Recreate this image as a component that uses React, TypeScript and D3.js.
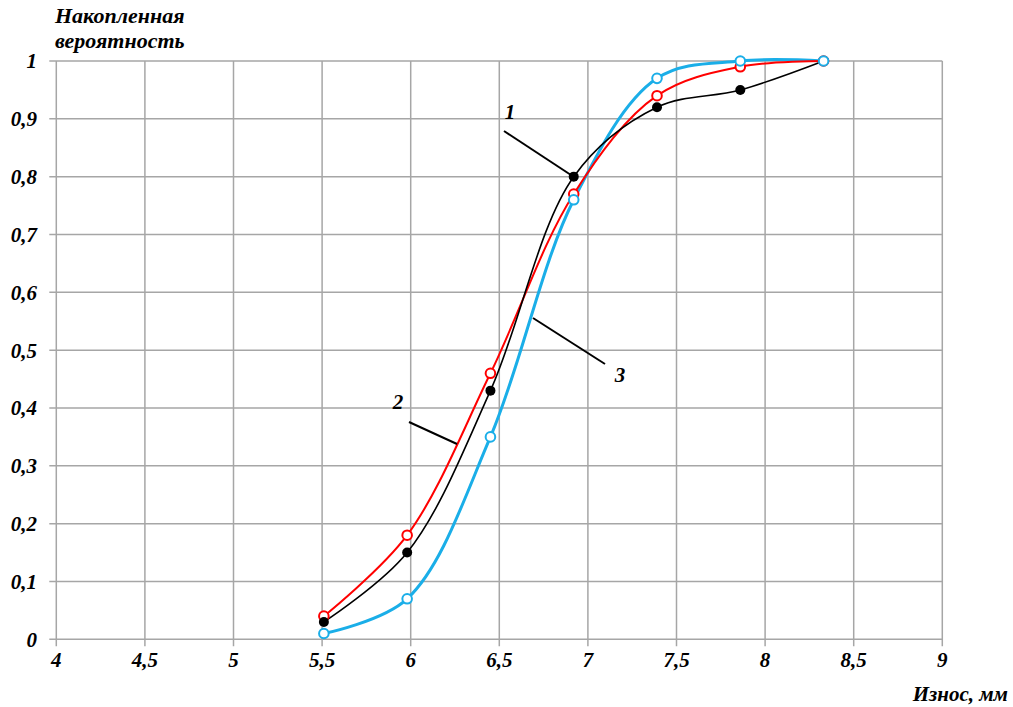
import React from "react";
import * as d3 from "d3";

const xValues = [5.51, 5.98, 6.45, 6.92, 7.39, 7.86, 8.33];
const series1 = [0.03, 0.15, 0.43, 0.8, 0.92, 0.95, 1.0];
const series2 = [0.04, 0.18, 0.46, 0.77, 0.94, 0.99, 1.0];
const series3 = [0.01, 0.07, 0.35, 0.76, 0.97, 1.0, 1.0];
const xTicks = [4, 4.5, 5, 5.5, 6, 6.5, 7, 7.5, 8, 8.5, 9];
const yTicks = [0, 0.1, 0.2, 0.3, 0.4, 0.5, 0.6, 0.7, 0.8, 0.9, 1];

const fmt = (v: number) => String(v).replace(".", ",");

export default function App() {
  const W = 1013, H = 707;
  const x = d3.scaleLinear().domain([4, 9]).range([56.3, 942.3]);
  const y = d3.scaleLinear().domain([0, 1]).range([639.3, 61]);
  const line = d3
    .line<[number, number]>()
    .x((d) => x(d[0]))
    .y((d) => y(d[1]))
    .curve(d3.curveCatmullRom.alpha(0.5));
  const pts = (s: number[]) => xValues.map((v, i) => [v, s[i]] as [number, number]);
  const font = "'Liberation Serif', 'Times New Roman', serif";
  const grid = "#a6a6a6";
  const ts = 21;
  return (
    <svg width={W} height={H} style={{ position: "absolute", left: 0, top: 0, background: "#fff" }}>
      <rect width={W} height={H} fill="#fff" />
      {xTicks.map((t) => (
        <line key={"gx" + t} x1={x(t)} x2={x(t)} y1={y(1)} y2={y(0) + 7} stroke={grid} strokeWidth={1.5} />
      ))}
      {yTicks.map((t) => (
        <line key={"gy" + t} x1={x(4) - 7} x2={x(9)} y1={y(t)} y2={y(t)} stroke={grid} strokeWidth={1.5} />
      ))}
      {yTicks.map((t) => (
        <text key={"ty" + t} x={37} y={y(t)} dy="0.35em" textAnchor="end" fontFamily={font} fontWeight="bold" fontStyle="italic" fontSize={ts}>
          {fmt(t)}
        </text>
      ))}
      {xTicks.map((t) => (
        <text key={"tx" + t} x={x(t)} y={667} textAnchor="middle" fontFamily={font} fontWeight="bold" fontStyle="italic" fontSize={ts}>
          {fmt(t)}
        </text>
      ))}
      <text x={55} y={23} fontFamily={font} fontWeight="bold" fontStyle="italic" fontSize={22}>Накопленная</text>
      <text x={55} y={48} fontFamily={font} fontWeight="bold" fontStyle="italic" fontSize={22}>вероятность</text>
      <text x={1008} y={701} textAnchor="end" fontFamily={font} fontWeight="bold" fontStyle="italic" fontSize={21}>Износ, мм</text>

      <path d={line(pts(series3)) || ""} fill="none" stroke="#1aaee8" strokeWidth={3} />
      <path d={line(pts(series2)) || ""} fill="none" stroke="#ff0000" strokeWidth={2} />
      <path d={line(pts(series1)) || ""} fill="none" stroke="#000" strokeWidth={1.6} />

      {pts(series2).map((p, i) => (
        <circle key={"m2" + i} cx={x(p[0])} cy={y(p[1])} r={4.8} fill="#fff" stroke="#ff0000" strokeWidth={2} />
      ))}
      {pts(series1).map((p, i) => (
        <circle key={"m1" + i} cx={x(p[0])} cy={y(p[1])} r={5} fill="#000" />
      ))}
      {pts(series3).map((p, i) => (
        <circle key={"m3" + i} cx={x(p[0])} cy={y(p[1])} r={4.8} fill="#fff" stroke="#1aaee8" strokeWidth={2} />
      ))}

      <line x1={504} y1={131} x2={574} y2={177} stroke="#000" strokeWidth={2} />
      <line x1={409} y1={422} x2={457} y2={444} stroke="#000" strokeWidth={2} />
      <line x1={533} y1={318} x2={605} y2={364} stroke="#000" strokeWidth={2} />
      <text x={510} y={112} dy="0.35em" textAnchor="middle" fontFamily={font} fontWeight="bold" fontStyle="italic" fontSize={ts}>1</text>
      <text x={398} y={402} dy="0.35em" textAnchor="middle" fontFamily={font} fontWeight="bold" fontStyle="italic" fontSize={ts}>2</text>
      <text x={620} y={375} dy="0.35em" textAnchor="middle" fontFamily={font} fontWeight="bold" fontStyle="italic" fontSize={ts}>3</text>
    </svg>
  );
}
